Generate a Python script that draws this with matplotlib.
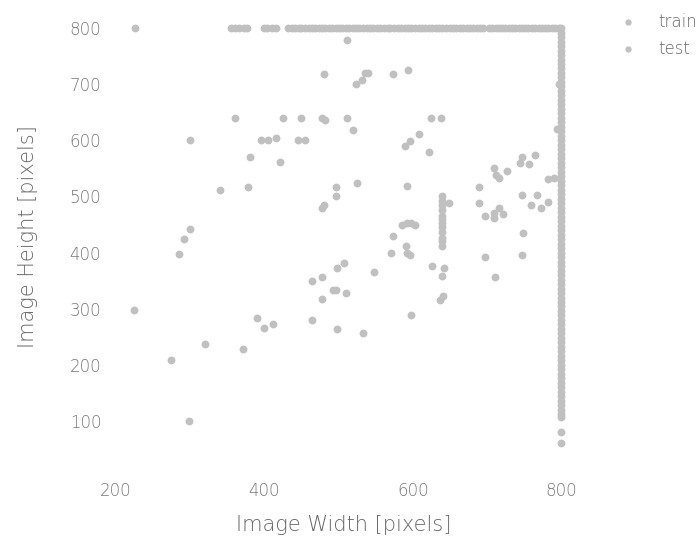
import matplotlib.pyplot as plt

plt.rcParams['font.family'] = ['DejaVu Sans']

# images whose height was capped at 800
top_x = [225, 355, 360, 366, 372, 377, 400, 404, 410, 415, 432, 437, 441, 446, 450,
         455, 460, 464, 468, 473, 478, 482, 487, 491, 496, 500, 505, 510, 514, 519,
         524, 528, 533, 538, 542, 547, 552, 556, 561, 566, 570, 575, 580, 584, 589,
         594, 598, 603, 608, 612, 617, 622, 626, 631, 636, 640, 645, 650, 654, 659,
         664, 668, 673, 677, 681, 686, 691, 695, 703, 707, 712, 716, 721, 725, 730,
         734, 738, 743, 747, 752, 756, 761, 765, 770, 774, 779, 783, 788, 792, 797]

# images whose width was capped at 800
right_y = [800, 792, 784, 776, 768, 760, 752, 744, 736, 728, 720, 712, 704, 696, 688,
           680, 672, 664, 656, 648, 640, 632, 624, 616, 608, 600, 592, 584, 576, 568,
           560, 552, 544, 536, 528, 520, 512, 504, 496, 488, 480, 472, 464, 456, 448,
           440, 432, 424, 416, 408, 400, 392, 384, 376, 368, 360, 352, 344, 336, 328,
           320, 312, 304, 296, 288, 280, 272, 264, 256, 248, 240, 232, 224, 216, 208,
           200, 192, 184, 176, 168, 160, 152, 144, 136, 128, 120, 112, 108, 80, 60]

scatter_x = [480, 360, 425, 450, 478, 482, 300, 395, 405, 415, 445, 455, 380, 421, 340,
             378, 497, 497, 478, 480, 511, 536, 540, 531, 524, 574, 594, 511, 519, 625,
             638, 609, 596, 590, 622, 747, 765, 745, 757, 710, 727, 712, 716, 783, 525,
             592, 689, 747, 767, 760, 773, 783, 689, 649, 790, 795, 797]
scatter_y = [718, 640, 640, 640, 640, 637, 600, 600, 600, 604, 600, 600, 571, 561, 512,
             517, 517, 500, 479, 485, 779, 720, 720, 708, 700, 718, 725, 640, 618, 640,
             640, 612, 599, 590, 580, 571, 574, 559, 558, 550, 546, 538, 533, 531, 524,
             519, 516, 502, 502, 485, 480, 490, 488, 488, 533, 620, 700]

test_x = [640, 640, 640, 640, 640, 640, 640, 640, 640, 640, 640, 640, 642, 640, 637,
          641, 698, 709, 717, 722, 709, 749, 747, 698, 711, 626, 585, 592, 598, 603,
          574, 591, 592, 597, 571, 498, 507, 548, 493, 497, 510, 598, 498, 533, 300,
          292, 285, 224, 464, 478, 478, 464, 390, 399, 411, 320, 371, 274, 298]
test_y = [500, 492, 484, 476, 466, 460, 452, 446, 436, 426, 420, 412, 372, 358, 316,
          322, 466, 470, 479, 469, 461, 435, 396, 393, 357, 377, 450, 452, 453, 450,
          430, 411, 400, 396, 400, 372, 381, 365, 334, 334, 328, 288, 264, 257, 442,
          424, 398, 298, 349, 357, 317, 280, 284, 266, 272, 238, 228, 208, 100]

train_x = top_x + [800] * len(right_y) + scatter_x
train_y = [800] * len(top_x) + right_y + scatter_y

grey = '#c0c0c0'
fig = plt.figure(figsize=(7, 5.45), dpi=100)
ax = fig.add_axes([0.1446, 0.1657, 0.6781, 0.8137])
ax.scatter(train_x, train_y, s=32, c=grey, linewidths=0, label='train')
ax.scatter(test_x, test_y, s=32, c=grey, linewidths=0, label='test')

ax.set_xlim(180, 820)
ax.set_ylim(40, 830)
ax.set_xticks([200, 400, 600, 800])
ax.set_yticks([100, 200, 300, 400, 500, 600, 700, 800])
for s in ax.spines.values():
    s.set_visible(False)
ax.tick_params(length=0, colors='#777777', labelsize=12)
ax.tick_params(axis='x', pad=20)
ax.tick_params(axis='y', pad=0)
for lab in ax.get_xticklabels() + ax.get_yticklabels():
    lab.set_fontweight('light')

ax.set_xlabel('Image Width [pixels]', fontsize=15, color='#666666', fontweight='light')
ax.set_ylabel('Image Height [pixels]', fontsize=15, color='#666666', fontweight='light')
ax.xaxis.set_label_coords(0.51, -0.135)
ax.yaxis.set_label_coords(-0.133, 0.493)

leg = ax.legend(loc='upper left', bbox_to_anchor=(0.885, 0.977),
                bbox_transform=fig.transFigure, frameon=False, fontsize=12,
                handletextpad=1.3, labelspacing=0.55, markerscale=0.8,
                borderaxespad=0, borderpad=0, handlelength=1)
for t in leg.get_texts():
    t.set_color('#666666')
    t.set_fontweight('light')

fig.savefig('out.png', dpi=100)
